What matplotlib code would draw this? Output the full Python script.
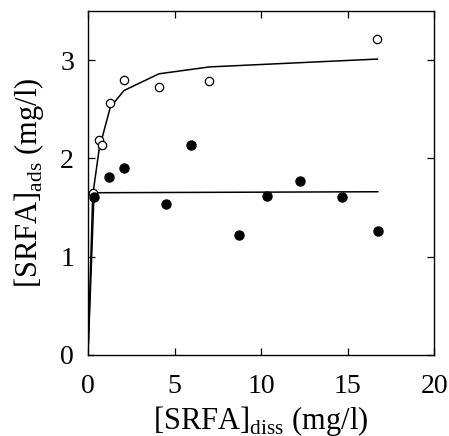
import matplotlib
matplotlib.use('Agg')
import matplotlib.pyplot as plt

plt.rcParams['font.family'] = ['Liberation Serif', 'DejaVu Serif']
plt.rcParams['mathtext.fontset'] = 'custom'
plt.rcParams['mathtext.rm'] = 'Liberation Serif'

# open circles
open_x = [0.27, 0.65, 0.81, 1.29, 2.08, 4.10, 7.01, 16.72]
open_y = [1.65, 2.19, 2.14, 2.56, 2.80, 2.73, 2.79, 3.21]

# filled circles
fill_x = [0.35, 1.19, 2.10, 4.53, 5.93, 8.75, 10.36, 12.23, 14.68, 16.74]
fill_y = [1.61, 1.81, 1.90, 1.54, 2.14, 1.22, 1.62, 1.77, 1.61, 1.26]

# fitted curves
fit_up_x = [0, 0.27, 0.65, 1.29, 2.08, 4.10, 7.01, 16.72]
fit_up_y = [0, 1.62, 2.10, 2.52, 2.69, 2.86, 2.93, 3.01]
fit_lo_x = [0, 0.35, 16.74]
fit_lo_y = [0, 1.65, 1.66]

fig = plt.figure(figsize=(4.49, 4.36), dpi=100)
ax = fig.add_axes([0.196, 0.186, 0.771, 0.789])

ax.plot(fit_up_x, fit_up_y, color='black', lw=1.1)
ax.plot(fit_lo_x, fit_lo_y, color='black', lw=1.1)
ax.plot(open_x, open_y, 'o', mfc='white', mec='black', mew=0.9, ms=6)
ax.plot(fill_x, fill_y, 'o', color='black', ms=6.5)

ax.set_xlim(0, 20)
ax.set_ylim(0, 3.5)
ax.set_xticks([0, 5, 10, 15, 20])
ax.set_yticks([0, 1, 2, 3])
ax.tick_params(direction='in', top=True, right=True, length=5, width=0.9,
               labelsize=20)
ax.tick_params(axis='x', pad=14)
ax.tick_params(axis='y', pad=10)
for s in ax.spines.values():
  s.set_linewidth(1.0)

ax.set_xlabel(r'[SRFA]$_{\rm diss}$ (mg/l)', fontsize=22, labelpad=3)
ax.set_ylabel(r'[SRFA]$_{\rm ads}$ (mg/l)', fontsize=22, labelpad=10)

fig.savefig('out.png', dpi=100)
